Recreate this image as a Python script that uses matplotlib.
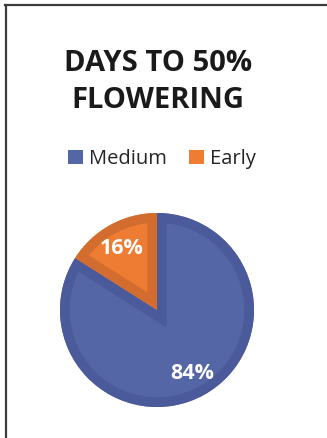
import matplotlib.pyplot as plt
from matplotlib.patches import Patch, Wedge
from matplotlib.lines import Line2D

labels = ["Medium", "Early"]
shares = [84, 16]
fills = ["#5566A6", "#EE7D33"]
edges = ["#4A5A9B", "#D26D2F"]
title = "DAYS TO 50%\nFLOWERING"

plt.rcParams["font.family"] = ["Open Sans", "DejaVu Sans"]

fig = plt.figure(figsize=(3.27, 4.38), dpi=100)
fig.patch.set_facecolor("white")

# frame of the chart area (only top and left edges fall inside the image)
W, H = 327.0, 438.0
fig.add_artist(Line2D([5 / W, 1], [1 - 5 / H, 1 - 5 / H], color="#3c3c3c", lw=1.6, transform=fig.transFigure))
fig.add_artist(Line2D([6 / W, 6 / W], [0, 1 - 5 / H], color="#3c3c3c", lw=1.6, transform=fig.transFigure))

fig.text(158 / W, 1 - 82 / H, title, ha="center", va="center", fontsize=21,
         fontweight="bold", color="#1a1a1a", linespacing=1.32)

# pie axes: centre (157, 310), radius ~97 px
r = 97
ax = fig.add_axes([(157 - r) / W, 1 - (310 + r) / H, 2 * r / W, 2 * r / H])
wedges, _ = ax.pie(shares, colors=fills, startangle=90, counterclock=False,
                   radius=1.0, wedgeprops=dict(linewidth=0))
ax.set_xlim(-1, 1)
ax.set_ylim(-1, 1)
ax.set_aspect("equal")
ax.axis("off")

# inner border: a thick outline clipped to each slice
for w, ec in zip(wedges, edges):
    rim = Wedge(w.center, w.r, w.theta1, w.theta2, facecolor="none",
                edgecolor=ec, linewidth=14, joinstyle="miter")
    ax.add_patch(rim)
    rim.set_clip_path(w.get_path(), ax.transData)

ax.text(-0.36, 0.63, f"{shares[1]}%", ha="center", va="center", color="white",
        fontsize=15.5, fontweight="bold")
ax.text(0.36, -0.65, f"{shares[0]}%", ha="center", va="center", color="white",
        fontsize=15.5, fontweight="bold")

handles = [Patch(facecolor=c, edgecolor="none") for c in fills]
fig.legend(handles, labels, loc="center", bbox_to_anchor=(162 / W, 1 - 159 / H),
           ncol=2, frameon=False, fontsize=14.5, handlelength=0.75, handleheight=0.75,
           handletextpad=0.3, columnspacing=1.1, labelcolor="#262626")

fig.savefig("out.png", dpi=100)
